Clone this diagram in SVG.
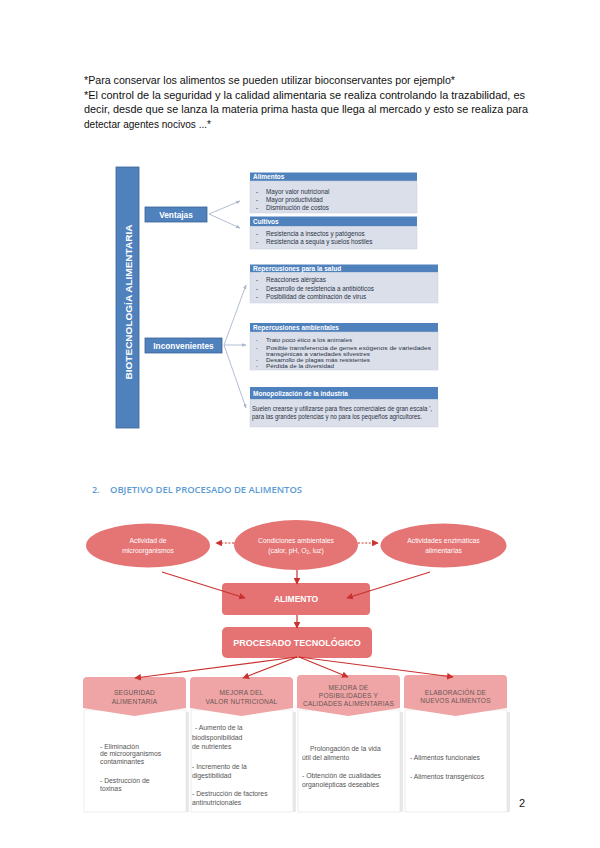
<svg xmlns="http://www.w3.org/2000/svg" width="600" height="848" viewBox="0 0 600 848">
<defs>
<style>
.p{font-family:"Liberation Sans",Arial,sans-serif;font-size:11px;fill:#111}
.bar{fill:#4f81bd;stroke:#3a6396;stroke-width:0.8}
.hdr{fill:#4f81bd}
.body{fill:#dadfea;stroke:#c8cfdc;stroke-width:0.5}
.ht{font-family:"Liberation Sans",Arial,sans-serif;font-size:6.5px;font-weight:bold;fill:#fff}
.it{font-family:"Liberation Sans",Arial,sans-serif;font-size:6.3px;fill:#2b3344}
.is{font-family:"Liberation Sans",Arial,sans-serif;font-size:5.5px;fill:#2b3344}
.bw{font-family:"Liberation Sans",Arial,sans-serif;font-weight:bold;fill:#fff}
.gl{stroke:#a9b7cc;stroke-width:0.9;fill:none}
.rl{stroke:#c9322f;stroke-width:1.2;fill:none}
.rd{stroke:#c9322f;stroke-width:1.2;fill:none;stroke-dasharray:2 1.6}
.ell{fill:#e57474}
.box{fill:#e57373}
.et{font-family:"Liberation Sans",Arial,sans-serif;font-size:6.8px;fill:#fff;text-anchor:middle}
.ch{fill:#efa5a5}
.cb{fill:#fff;stroke:#e2e2e2;stroke-width:0.6}
.sh{fill:#e9e9e9}
.cht{font-family:"Liberation Sans",Arial,sans-serif;font-size:6.6px;fill:#6a5656;text-anchor:middle;letter-spacing:0.2px}
.ct{font-family:"Liberation Sans",Arial,sans-serif;font-size:6.8px;fill:#555}
</style>
<marker id="ag" viewBox="0 0 10 10" refX="9" refY="5" markerWidth="5" markerHeight="5" orient="auto"><path d="M0,1 L10,5 L0,9 z" fill="#a9b7cc"/></marker>
<marker id="ar" viewBox="0 0 10 10" refX="9" refY="5" markerWidth="5.5" markerHeight="5.5" orient="auto"><path d="M0,0 L10,5 L0,10 z" fill="#c9322f"/></marker>
</defs>
<rect width="600" height="848" fill="#fff"/>

<g id="intro">
<text class="p" x="84" y="84" textLength="371" lengthAdjust="spacingAndGlyphs">*Para conservar los alimentos se pueden utilizar bioconservantes por ejemplo*</text>
<text class="p" x="84" y="98.5" textLength="441" lengthAdjust="spacingAndGlyphs">*El control de la seguridad y la calidad alimentaria se realiza controlando la trazabilidad, es</text>
<text class="p" x="84" y="113" textLength="444" lengthAdjust="spacingAndGlyphs">decir, desde que se lanza la materia prima hasta que llega al mercado y esto se realiza para</text>
<text class="p" x="84" y="127.5" textLength="127" lengthAdjust="spacingAndGlyphs">detectar agentes nocivos ...*</text>
</g>

<g id="biotec-connectors">
<line class="gl" x1="209" y1="214" x2="240" y2="201" marker-end="url(#ag)"/>
<line class="gl" x1="209" y1="214" x2="240" y2="228" marker-end="url(#ag)"/>
<line class="gl" x1="224" y1="345" x2="246" y2="285" marker-end="url(#ag)"/>
<line class="gl" x1="224" y1="345" x2="246" y2="345" marker-end="url(#ag)"/>
<line class="gl" x1="224" y1="345" x2="246" y2="408" marker-end="url(#ag)"/>
</g>

<g id="biotecnologia">
<rect class="bar" x="116" y="167" width="23" height="261"/>
<text class="bw" font-size="8.5" transform="translate(131.5,302) rotate(-90)" text-anchor="middle" textLength="155" lengthAdjust="spacingAndGlyphs">BIOTECNOLOGÍA  ALIMENTARIA</text>
</g>
<g id="ventajas">
<rect class="bar" x="145" y="207" width="62" height="15"/>
<text class="bw" font-size="8.3" x="176" y="217.5" text-anchor="middle">Ventajas</text>
</g>
<g id="inconvenientes">
<rect class="bar" x="145" y="338" width="77" height="15"/>
<text class="bw" font-size="8.3" x="183.5" y="348.5" text-anchor="middle">Inconvenientes</text>
</g>

<g id="alimentos">
<rect class="hdr" x="250" y="172.5" width="167" height="8.5"/>
<rect class="body" x="250" y="181" width="167" height="32"/>
<text class="ht" x="253" y="179.3">Alimentos</text>
<text class="it" x="256" y="194">-</text><text class="it" x="266" y="194">Mayor valor nutricional</text>
<text class="it" x="256" y="202">-</text><text class="it" x="266" y="202">Mayor productividad</text>
<text class="it" x="256" y="210">-</text><text class="it" x="266" y="210">Disminución de costos</text>
</g>
<g id="cultivos">
<rect class="hdr" x="250" y="216.5" width="167" height="10"/>
<rect class="body" x="250" y="226.5" width="167" height="22.5"/>
<text class="ht" x="253" y="224">Cultivos</text>
<text class="it" x="256" y="236">-</text><text class="it" x="266" y="236">Resistencia a insectos y patógenos</text>
<text class="it" x="256" y="243.5">-</text><text class="it" x="266" y="243.5">Resistencia a sequía y suelos hostiles</text>
</g>
<g id="salud">
<rect class="hdr" x="250" y="264.5" width="188" height="8"/>
<rect class="body" x="250" y="272.5" width="188" height="30.5"/>
<text class="ht" x="253" y="271">Repercusiones  para  la salud</text>
<text class="it" x="256" y="282">-</text><text class="it" x="266" y="282">Reacciones alérgicas</text>
<text class="it" x="256" y="290.5">-</text><text class="it" x="266" y="290.5">Desarrollo de resistencia a antibióticos</text>
<text class="it" x="256" y="299">-</text><text class="it" x="266" y="299">Posibilidad de combinación de virus</text>
</g>
<g id="ambientales">
<rect class="hdr" x="250" y="323" width="188" height="9"/>
<rect class="body" x="250" y="332" width="188" height="38"/>
<text class="ht" x="253" y="330">Repercusiones  ambientales</text>
<text class="is" x="256" y="341.5">-</text><text class="is" x="266" y="341.5" textLength="86" lengthAdjust="spacingAndGlyphs">Trato poco ético a los animales</text>
<text class="is" x="256" y="349.5">-</text><text class="is" x="266" y="349.5" textLength="165" lengthAdjust="spacingAndGlyphs">Posible transferencia de genes exógenos de variedades</text>
<text class="is" x="266" y="355.5" textLength="104" lengthAdjust="spacingAndGlyphs">transgénicas a variedades silvestres</text>
<text class="is" x="256" y="362">-</text><text class="is" x="266" y="362" textLength="104" lengthAdjust="spacingAndGlyphs">Desarrollo de plagas más resistentes</text>
<text class="is" x="256" y="368">-</text><text class="is" x="266" y="368" textLength="68" lengthAdjust="spacingAndGlyphs">Pérdida de la diversidad</text>
</g>
<g id="monopolizacion">
<rect class="hdr" x="250" y="387" width="188" height="12.5"/>
<rect class="body" x="250" y="399.5" width="188" height="27.5"/>
<text class="ht" x="253" y="395.5">Monopolización  de la industria</text>
<text class="it" x="252" y="411" textLength="180" lengthAdjust="spacingAndGlyphs">Suelen crearse y utilizarse para fines comerciales de gran escala ',</text>
<text class="it" x="252" y="418.5" textLength="170" lengthAdjust="spacingAndGlyphs">para  las grandes potencias y no para  los pequeños agricultores.</text>
</g>

<g id="heading">
<text x="92" y="493" font-family="'Open Sans','Liberation Sans',sans-serif" font-size="9" font-weight="600" fill="#5b9bd5">2.</text>
<text x="110" y="493" font-family="'Open Sans','Liberation Sans',sans-serif" font-size="9" font-weight="600" fill="#5b9bd5" textLength="192" lengthAdjust="spacingAndGlyphs">OBJETIVO DEL PROCESADO DE ALIMENTOS</text>
</g>

<g id="col-seguridad">
<rect class="sh" x="186" y="712" width="3" height="100"/>
<rect class="cb" x="84" y="710" width="102" height="102"/>
<path class="ch" d="M83,681 Q83,677 87,677 L182,677 Q186,677 186,681 L186,708 L134.5,716 L83,708 Z"/>
<text class="cht" x="134.5" y="694.5">SEGURIDAD</text>
<text class="cht" x="134.5" y="703.5">ALIMENTARIA</text>
<text class="ct" x="100" y="749">- Eliminación</text>
<text class="ct" x="100" y="756">de microorganismos</text>
<text class="ct" x="100" y="764">contaminantes</text>
<text class="ct" x="100" y="783">- Destrucción de</text>
<text class="ct" x="100" y="791">toxinas</text>
</g>
<g id="col-nutricional">
<rect class="sh" x="293" y="712" width="3" height="100"/>
<rect class="cb" x="191" y="710" width="102" height="102"/>
<path class="ch" d="M190,681 Q190,677 194,677 L289,677 Q293,677 293,681 L293,708 L241.5,716 L190,708 Z"/>
<text class="cht" x="241.5" y="694.5">MEJORA DEL</text>
<text class="cht" x="241.5" y="703.5">VALOR NUTRICIONAL</text>
<text class="ct" x="195" y="730">- Aumento de la</text>
<text class="ct" x="192" y="739.5">biodisponibilidad</text>
<text class="ct" x="192" y="748.5">de nutrientes</text>
<text class="ct" x="192" y="769">- Incremento de la</text>
<text class="ct" x="192" y="777.5">digestibilidad</text>
<text class="ct" x="192" y="795.5">- Destrucción de factores</text>
<text class="ct" x="192" y="804.5">antinutricionales</text>
</g>
<g id="col-calidades">
<rect class="sh" x="400" y="712" width="3" height="100"/>
<rect class="cb" x="298" y="710" width="102" height="102"/>
<path class="ch" d="M297,679 Q297,675 301,675 L396,675 Q400,675 400,679 L400,708 L348.5,716 L297,708 Z"/>
<text class="cht" x="348.5" y="689.5">MEJORA DE</text>
<text class="cht" x="348.5" y="697.5">POSIBILIDADES Y</text>
<text class="cht" x="348.5" y="705.5">CALIDADES ALIMENTARIAS</text>
<text class="ct" x="310" y="750.5">Prolongación de la vida</text>
<text class="ct" x="302" y="759.5">útil del alimento</text>
<text class="ct" x="302" y="777.5">- Obtención de cualidades</text>
<text class="ct" x="302" y="786.5">organolépticas deseables</text>
</g>
<g id="col-nuevos">
<rect class="sh" x="507" y="712" width="3" height="100"/>
<rect class="cb" x="405" y="710" width="102" height="102"/>
<path class="ch" d="M404,679 Q404,675 408,675 L503,675 Q507,675 507,679 L507,708 L455.5,716 L404,708 Z"/>
<text class="cht" x="455.5" y="694.5">ELABORACIÓN DE</text>
<text class="cht" x="455.5" y="702.5">NUEVOS ALIMENTOS</text>
<text class="ct" x="410" y="759.5">- Alimentos funcionales</text>
<text class="ct" x="410" y="778.5">- Alimentos transgénicos</text>
</g>

<g id="microorganismos">
<ellipse class="ell" cx="148" cy="545.5" rx="62" ry="22"/>
<text class="et" x="148" y="543">Actividad de</text>
<text class="et" x="148" y="552.5">microorganismos</text>
</g>
<g id="condiciones">
<ellipse class="ell" cx="296" cy="545" rx="62" ry="25"/>
<text class="et" x="296" y="543">Condiciones ambientales</text>
<text class="et" x="296" y="552.5">(calor, pH, O<tspan font-size="4.5" dy="1.5">2</tspan><tspan dy="-1.5">, luz)</tspan></text>
</g>
<g id="enzimaticas">
<ellipse class="ell" cx="443.5" cy="545.5" rx="63" ry="22"/>
<text class="et" x="443.5" y="543">Actividades enzimáticas</text>
<text class="et" x="443.5" y="552.5">alimentarias</text>
</g>
<g id="alimento">
<rect class="box" x="222" y="583" width="148" height="32" rx="4"/>
<text class="bw" font-size="8.5" x="296" y="602" text-anchor="middle">ALIMENTO</text>
</g>
<g id="procesado">
<rect class="box" x="222" y="627" width="150" height="31" rx="5"/>
<text class="bw" font-size="9" x="297" y="645.5" text-anchor="middle">PROCESADO TECNOLÓGICO</text>
</g>

<g id="connectors">
<line class="rd" x1="234" y1="543" x2="216" y2="543" marker-end="url(#ar)"/>
<line class="rd" x1="358" y1="543" x2="378" y2="543" marker-end="url(#ar)"/>
<line class="rl" x1="162" y1="572" x2="245" y2="598" marker-end="url(#ar)"/>
<line class="rl" x1="430" y1="572" x2="347" y2="598" marker-end="url(#ar)"/>
<line class="rl" x1="297" y1="570" x2="297" y2="584" marker-end="url(#ar)"/>
<line class="rl" x1="297" y1="615" x2="297" y2="628" marker-end="url(#ar)"/>
<line class="rl" x1="297" y1="657" x2="135" y2="678" marker-end="url(#ar)"/>
<line class="rl" x1="297" y1="657" x2="243" y2="678" marker-end="url(#ar)"/>
<line class="rl" x1="299" y1="657" x2="348" y2="677" marker-end="url(#ar)"/>
<line class="rl" x1="299" y1="657" x2="453" y2="677" marker-end="url(#ar)"/>
</g>

<g id="page-number">
<text x="519" y="807" font-family="'Liberation Sans',Arial,sans-serif" font-size="11" fill="#111">2</text>
</g>
</svg>
